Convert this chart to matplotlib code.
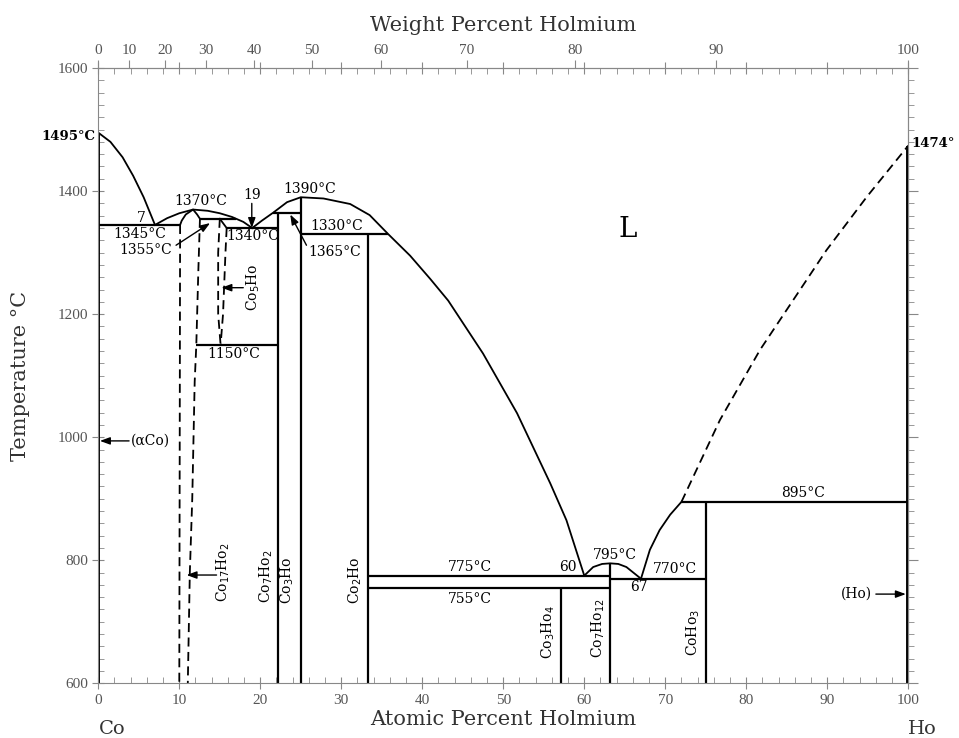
import numpy as np
import matplotlib.pyplot as plt
from matplotlib.ticker import MultipleLocator, NullLocator

M_CO, M_HO = 58.933, 164.930

# liquidus pieces (at.% Ho, degC)
liq_co_x = [0, 1.5, 3.0, 4.3, 5.6, 7.0]
liq_co_t = [1495, 1480, 1455, 1425, 1390, 1345]
liq_dome_x = [7.0, 8.5, 10.0, 11.7, 13.5, 15.0, 16.5, 17.9, 19.0]
liq_dome_t = [1345, 1356, 1364, 1370, 1368, 1364, 1358, 1350, 1340]
liq_mid_x = [19.0, 20.2, 21.6, 23.3, 25.0, 27.8, 31.1, 33.5, 35.8, 38.5, 41.0, 43.2,
             47.5, 51.7, 55.8, 57.8, 60.0]
liq_mid_t = [1340, 1352, 1365, 1382, 1390, 1388, 1379, 1361, 1330, 1295, 1257, 1222,
             1136, 1039, 925, 865, 775]
liq_dome2_x = [60.0, 61.1, 62.2, 63.2, 64.2, 65.2, 67.0]
liq_dome2_t = [775, 789, 794, 795, 794, 789, 770]
liq_ho_x = [67.0, 68.1, 69.3, 70.6, 72.0]
liq_ho_t = [770, 817, 849, 874, 895]
liq_dash_x = [72.0, 76.75, 81.7, 85.8, 89.9, 94.9, 100]
liq_dash_t = [895, 1028, 1142, 1223, 1304, 1391, 1474]

# Co17Ho2 and Co5Ho ranges
c172_top_x = [10.1, 10.3, 10.8, 11.7, 12.2, 12.55]
c172_top_t = [1345, 1352, 1362, 1370, 1362, 1355]
c172_left_x = [10.1, 10.0]
c172_left_t = [1345, 600]
c172_right_x = [12.55, 12.35, 12.1, 11.9, 11.6, 11.3, 11.05]
c172_right_t = [1355, 1270, 1150, 1090, 900, 780, 600]
c5_top_x = [15.0, 15.85]
c5_top_t = [1355, 1340]
c5_left_x = [15.0, 14.8, 14.8, 15.1]
c5_left_t = [1355, 1300, 1200, 1150]
c5_right_x = [15.85, 15.7, 15.4, 15.1]
c5_right_t = [1340, 1300, 1200, 1150]

# invariant lines
inv_x0 = [0, 12.55, 15.85, 21.6, 25.0, 12.1, 33.3, 33.3, 63.2, 72.0]
inv_x1 = [10.1, 17.0, 22.2, 25.0, 35.8, 22.2, 63.2, 63.2, 75.0, 100]
inv_t = [1345, 1355, 1340, 1365, 1330, 1150, 775, 755, 770, 895]

# compounds
comp_x = [22.2, 25.0, 33.3, 57.1, 63.2, 75.0]
comp_top = [1365, 1390, 1330, 755, 795, 895]
comp_names = ['Co$_7$Ho$_2$', 'Co$_3$Ho', 'Co$_2$Ho', 'Co$_3$Ho$_4$', 'Co$_7$Ho$_{12}$', 'CoHo$_3$']
comp_lx = [20.8, 23.3, 31.7, 55.6, 61.7, 73.5]
comp_lt = [774, 768, 768, 683, 690, 682]

labels = ['7', '1345°C', '1355°C', '1370°C', '19', '1390°C', '1340°C', '1330°C', '1365°C',
          '1150°C', '775°C', '60', '755°C', '795°C', '770°C', '67', '895°C', '(αCo)', '(Ho)']
label_x = [5.35, 5.1, 5.8, 12.6, 19.0, 26.1, 19.1, 29.4, 29.2,
           16.7, 45.9, 58.0, 45.9, 63.8, 71.2, 66.8, 87.0, 6.4, 93.6]
label_t = [1357, 1331, 1304, 1384, 1394, 1403, 1327, 1344, 1301,
           1135, 789, 789, 737, 809, 785, 757, 909, 995, 745]

x_ticks = list(range(0, 101, 10))
t_ticks = list(range(600, 1601, 200))
wt_ticks = [0, 10, 20, 30, 40, 50, 60, 70, 80, 90, 100]


def at_to_wt(a):
    a = np.asarray(a, dtype=float)
    return 100 * a * M_HO / (a * M_HO + (100 - a) * M_CO)


def wt_to_at(w):
    w = np.asarray(w, dtype=float)
    return 100 * (w / M_HO) / (w / M_HO + (100 - w) / M_CO)


plt.rcParams['font.family'] = ['DejaVu Serif']
fig = plt.figure(figsize=(9.59, 7.38), dpi=100)
ax = fig.add_axes([0.1025, 0.0741, 0.8446, 0.8337])
ax.set_xlim(0, 100)
ax.set_ylim(600, 1600)

k = dict(color='black', lw=1.3)
kd = dict(color='black', lw=1.3, ls=(0, (5, 3)))

ax.plot(liq_co_x, liq_co_t, **k)
ax.plot(liq_dome_x, liq_dome_t, **k)
ax.plot(liq_mid_x, liq_mid_t, **k)
ax.plot(liq_dome2_x, liq_dome2_t, **k)
ax.plot(liq_ho_x, liq_ho_t, **k)
ax.plot(liq_dash_x, liq_dash_t, **kd)

ax.plot(c172_top_x, c172_top_t, **k)
ax.plot(c172_left_x, c172_left_t, **kd)
ax.plot(c172_right_x, c172_right_t, **kd)
ax.plot(c5_top_x, c5_top_t, **k)
ax.plot(c5_left_x, c5_left_t, **kd)
ax.plot(c5_right_x, c5_right_t, **kd)

ax.hlines(inv_t, inv_x0, inv_x1, colors='black', lw=1.6)
ax.vlines(comp_x, 600, comp_top, colors='black', lw=1.6)
ax.vlines([0], 600, 1495, colors='black', lw=2.8)
ax.vlines([100], 600, 1474, colors='black', lw=2.8)

tk = dict(fontsize=10, ha='center', va='center')
for s, x, t in zip(labels, label_x, label_t):
    ax.text(x, t, s, **tk)
for s, x, t in zip(comp_names, comp_lx, comp_lt):
    ax.text(x, t, s, rotation=90, **tk)
ax.text(19.1, 1244, 'Co$_5$Ho', rotation=90, **tk)
ax.text(15.4, 780, 'Co$_{17}$Ho$_2$', rotation=90, **tk)
ax.text(65.4, 1337, 'L', fontsize=20, ha='center', va='center')
ax.text(-0.4, 1488, '1495°C', fontsize=9.5, fontweight='bold', ha='right', va='center')
ax.text(100.4, 1478, '1474°', fontsize=9.5, fontweight='bold', ha='left', va='center')

ap = dict(arrowstyle='-|>,head_length=0.6,head_width=0.22', color='black', lw=1,
          shrinkA=0, shrinkB=0)
ax.annotate('', xy=(18.95, 1340), xytext=(18.95, 1380), arrowprops=ap)
ax.annotate('', xy=(13.8, 1348), xytext=(9.6, 1312), arrowprops=ap)
ax.annotate('', xy=(23.7, 1362), xytext=(25.7, 1312), arrowprops=ap)
ax.annotate('', xy=(15.2, 1243), xytext=(17.9, 1243), arrowprops=ap)
ax.annotate('', xy=(10.9, 776), xytext=(14.6, 776), arrowprops=ap)
ax.annotate('', xy=(0.2, 994), xytext=(3.8, 994), arrowprops=ap)
ax.annotate('', xy=(99.7, 745), xytext=(96.0, 745), arrowprops=ap)

gray = '#555555'
for sp in ax.spines.values():
    sp.set_color('#888888')
ax.set_xticks(x_ticks)
ax.set_yticks(t_ticks)
ax.xaxis.set_minor_locator(MultipleLocator(2))
ax.yaxis.set_minor_locator(MultipleLocator(20))
ax.tick_params(which='major', direction='inout', length=8, color='#888888',
               labelsize=11, labelcolor=gray, top=True, right=False)
ax.tick_params(which='minor', direction='in', length=4, color='#888888', top=True, right=False)
for lab in ax.get_xticklabels() + ax.get_yticklabels():
    lab.set_family('Liberation Serif')

sec_y = ax.secondary_yaxis('right')
sec_y.set_yticks(t_ticks)
sec_y.yaxis.set_minor_locator(MultipleLocator(20))
sec_y.tick_params(which='major', direction='out', length=7, color='#888888', labelright=False)
sec_y.tick_params(which='minor', direction='out', length=4, color='#888888')
sec_y.spines['right'].set_color('#888888')

sec_x = ax.secondary_xaxis('top', functions=(at_to_wt, wt_to_at))
sec_x.set_xticks(wt_ticks)
sec_x.xaxis.set_minor_locator(NullLocator())
sec_x.tick_params(direction='out', length=6, color='#888888', labelsize=11, labelcolor=gray, pad=2)
for lab in sec_x.get_xticklabels():
    lab.set_family('Liberation Serif')
sec_x.spines['top'].set_color('#888888')
sec_x.set_xlabel('Weight Percent Holmium', fontsize=15, color='#333333', labelpad=9)

ax.set_xlabel('Atomic Percent Holmium', fontsize=15, color='#333333', labelpad=2)
ax.set_ylabel('Temperature °C', fontsize=15, color='#333333', labelpad=20)
ax.text(1.7, 525, 'Co', fontsize=14, color='#333333', ha='center', va='center', clip_on=False)
ax.text(101.7, 525, 'Ho', fontsize=14, color='#333333', ha='center', va='center', clip_on=False)

fig.savefig('out.png', dpi=100)
